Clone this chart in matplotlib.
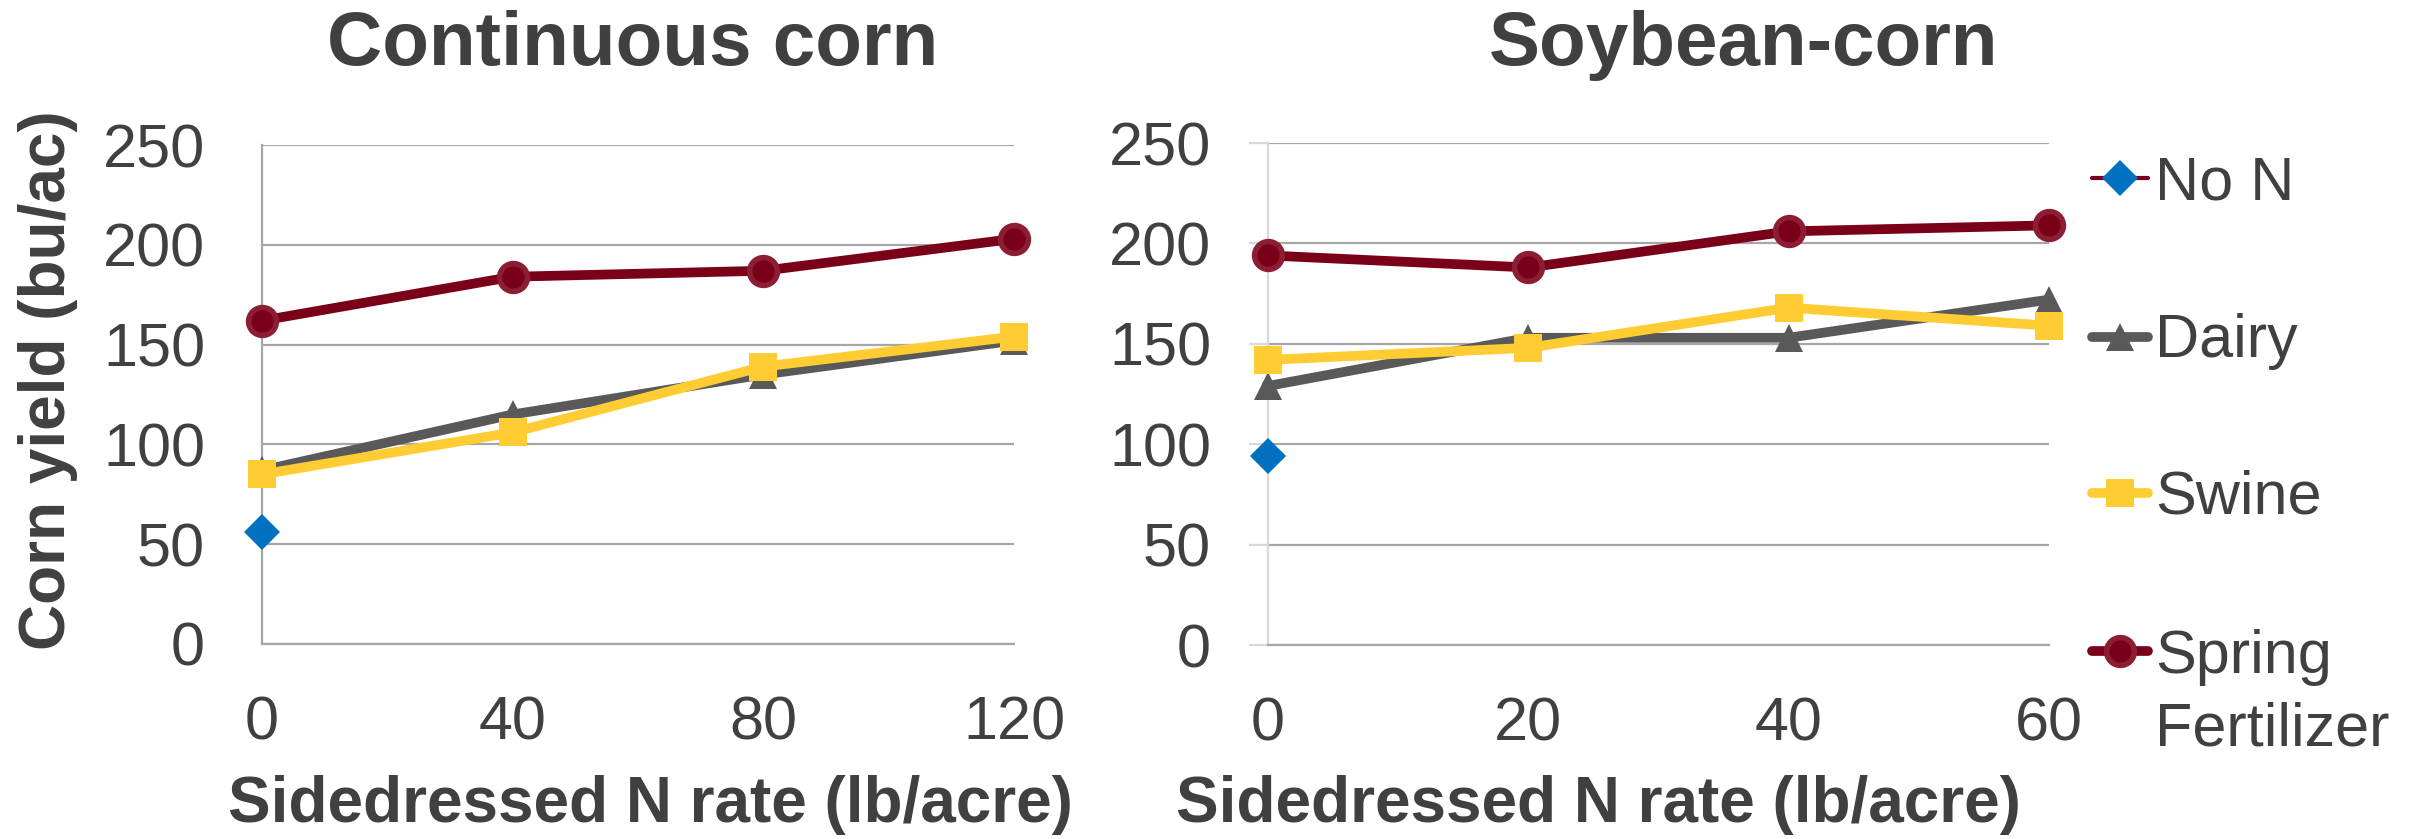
import matplotlib
matplotlib.use('Agg')
import matplotlib.pyplot as plt
from matplotlib.lines import Line2D

plt.rcParams['font.family'] = ['Liberation Sans', 'DejaVu Sans']

# data (yield in bu/ac)
cc_rate = [0, 40, 80, 120]
cc_non = [56]
cc_dairy = [87, 115, 135, 152]
cc_swine = [85, 106, 139, 154]
cc_spring = [162, 184, 187, 203]

sc_rate = [0, 20, 40, 60]
sc_non = [94]
sc_dairy = [129, 153, 153, 172]
sc_swine = [142, 148, 168, 159]
sc_spring = [194, 188, 206, 209]

yticks = [0, 50, 100, 150, 200, 250]

TXT = '#404040'
GRID = '#a6a6a6'
BLUE = '#0070c0'
GRAY = '#595959'
YELLOW = '#ffcc33'
RED = '#7a0019'
RED_EDGE = '#8c1d33'
LW = 7

W, H = 2422, 839
fig = plt.figure(figsize=(W / 100, H / 100), dpi=100)


def box(x0, x1, top, bottom):
    return [x0 / W, 1 - bottom / H, (x1 - x0) / W, (bottom - top) / H]


def fx(x):
    return x / W


def fy(y):
    return 1 - y / H


ax1 = fig.add_axes(box(262, 1014, 145, 644))
ax2 = fig.add_axes(box(1268, 2049, 143, 645))

panels = [
    (ax1, cc_rate, cc_non, cc_dairy, cc_swine, cc_spring),
    (ax2, sc_rate, sc_non, sc_dairy, sc_swine, sc_spring),
]

for ax, rate, non, dairy, swine, spring in panels:
    ax.plot(rate[:1], non, ls='none', marker='D', ms=18.5, color=BLUE, mew=0, clip_on=False, zorder=3)
    ax.plot(rate, dairy, color=GRAY, lw=LW, marker='^', ms=20, mew=0, clip_on=False, zorder=3)
    ax.plot(rate, swine, color=YELLOW, lw=LW, marker='s', ms=20, mew=0, clip_on=False, zorder=3)
    ax.plot(rate, spring, color=RED, lw=LW, marker='o', ms=20, mfc=RED, mec=RED_EDGE, mew=4,
            clip_on=False, zorder=3)
    ax.set_xlim(rate[0], rate[-1])
    ax.set_xticks(rate)
    ax.set_ylim(0, 250)
    ax.set_yticks(yticks)
    ax.yaxis.grid(True, color=GRID, lw=1.6)
    ax.set_axisbelow(True)
    for s in ['top', 'right']:
        ax.spines[s].set_visible(False)
    ax.spines['bottom'].set_color(GRID)
    ax.spines['bottom'].set_linewidth(1.6)
    ax.spines['left'].set_linewidth(1.6)
    ax.tick_params(axis='x', length=0, pad=37, labelsize=44, labelcolor=TXT)
    ax.tick_params(axis='y', labelsize=44, labelcolor=TXT)

ax1.spines['left'].set_color(GRID)
ax1.tick_params(axis='y', length=0, pad=41)
ax2.spines['left'].set_color('#d9d9d9')
ax2.tick_params(axis='y', length=13.7, width=1.6, color='#d9d9d9', pad=27.3)

# titles and axis labels
fig.text(fx(633), fy(65), 'Continuous corn', ha='center', va='baseline',
         fontsize=55, fontweight='bold', color=TXT)
fig.text(fx(1744), fy(65), 'Soybean-corn', ha='center', va='baseline',
         fontsize=55, fontweight='bold', color=TXT)
fig.text(fx(650), fy(822), 'Sidedressed N rate (lb/acre)', ha='center', va='baseline',
         fontsize=46, fontweight='bold', color=TXT)
fig.text(fx(1598), fy(822), 'Sidedressed N rate (lb/acre)', ha='center', va='baseline',
         fontsize=46, fontweight='bold', color=TXT)
fig.text(fx(48), fy(380), 'Corn yield (bu/ac)', ha='center', va='center', rotation=90,
         fontsize=46, fontweight='bold', color=TXT)

# legend, drawn by hand to match the Excel layout
legend_items = [
    ('No N', 178, 200, dict(color=RED, lw=3, marker='D', ms=18.5, mfc=BLUE, mec=BLUE, mew=0)),
    ('Dairy', 337, 357, dict(color=GRAY, lw=LW, marker='^', ms=20, mfc=GRAY, mew=0)),
    ('Swine', 493, 514, dict(color=YELLOW, lw=LW, marker='s', ms=20, mfc=YELLOW, mew=0)),
    ('Spring', 651, 673, dict(color=RED, lw=LW, marker='o', ms=20, mfc=RED, mec=RED_EDGE, mew=4)),
]
for label, yc, yb, kw in legend_items:
    fig.add_artist(Line2D([fx(2092), fx(2120), fx(2148)], [fy(yc)] * 3, markevery=[1],
                          transform=fig.transFigure, solid_capstyle='round', **kw))
    fig.text(fx(2155), fy(yb), label, ha='left', va='baseline', fontsize=44, color=TXT)
fig.text(fx(2155), fy(745), 'Fertilizer', ha='left', va='baseline', fontsize=44, color=TXT)

fig.savefig('out.png', dpi=100)
